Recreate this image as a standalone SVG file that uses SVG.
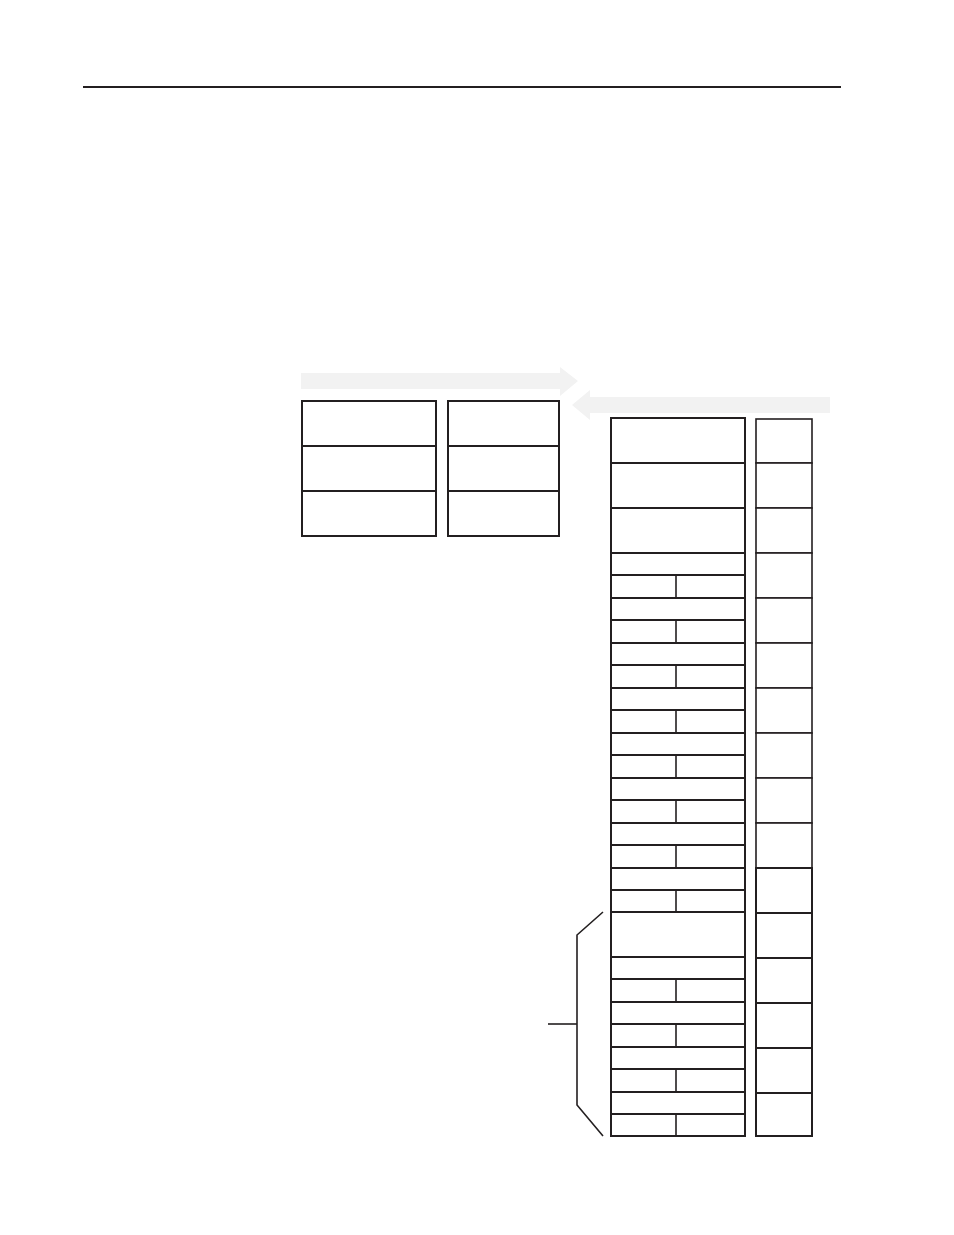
<svg xmlns="http://www.w3.org/2000/svg" width="954" height="1235" viewBox="0 0 954 1235">
<style>
.b{fill:#fff;stroke:#231f20;stroke-width:2}
.t{fill:#fff;stroke:#231f20;stroke-width:1.6}
.l{fill:none;stroke:#231f20;stroke-width:1.6}
.a{fill:#f2f2f2;stroke:none}
</style>
<rect width="954" height="1235" fill="#fff"/>
<line x1="83" y1="87" x2="841" y2="87" stroke="#231f20" stroke-width="2"/>
<g id="connectors">
<polygon class="a" points="301,373 560,373 560,367 578,381 560,396 560,389 301,389"/>
<polygon class="a" points="830,397 590,397 590,390 572,405 590,420 590,413 830,413"/>
<polyline class="l" points="603,912 577,935 577,1105 603,1136"/>
<line class="l" x1="548" y1="1024" x2="577" y2="1024"/>
</g>
<g id="left-a">
<rect class="b" x="302" y="401" width="134" height="45"/>
<rect class="b" x="302" y="446" width="134" height="45"/>
<rect class="b" x="302" y="491" width="134" height="45"/>
</g>
<g id="left-b">
<rect class="b" x="448" y="401" width="111" height="45"/>
<rect class="b" x="448" y="446" width="111" height="45"/>
<rect class="b" x="448" y="491" width="111" height="45"/>
</g>
<g id="main-col">
<rect class="b" x="611" y="418" width="134" height="45"/>
<rect class="b" x="611" y="463" width="134" height="45"/>
<rect class="b" x="611" y="508" width="134" height="45"/>
<g id="pair1"><rect class="b" x="611" y="553" width="134" height="22"/><rect class="b" x="611" y="575" width="134" height="23"/><line class="l" x1="676" y1="575" x2="676" y2="598"/></g>
<g id="pair2"><rect class="b" x="611" y="598" width="134" height="22"/><rect class="b" x="611" y="620" width="134" height="23"/><line class="l" x1="676" y1="620" x2="676" y2="643"/></g>
<g id="pair3"><rect class="b" x="611" y="643" width="134" height="22"/><rect class="b" x="611" y="665" width="134" height="23"/><line class="l" x1="676" y1="665" x2="676" y2="688"/></g>
<g id="pair4"><rect class="b" x="611" y="688" width="134" height="22"/><rect class="b" x="611" y="710" width="134" height="23"/><line class="l" x1="676" y1="710" x2="676" y2="733"/></g>
<g id="pair5"><rect class="b" x="611" y="733" width="134" height="22"/><rect class="b" x="611" y="755" width="134" height="23"/><line class="l" x1="676" y1="755" x2="676" y2="778"/></g>
<g id="pair6"><rect class="b" x="611" y="778" width="134" height="22"/><rect class="b" x="611" y="800" width="134" height="23"/><line class="l" x1="676" y1="800" x2="676" y2="823"/></g>
<g id="pair7"><rect class="b" x="611" y="823" width="134" height="22"/><rect class="b" x="611" y="845" width="134" height="23"/><line class="l" x1="676" y1="845" x2="676" y2="868"/></g>
<g id="pair8"><rect class="b" x="611" y="868" width="134" height="22"/><rect class="b" x="611" y="890" width="134" height="22"/><line class="l" x1="676" y1="890" x2="676" y2="912"/></g>
<rect class="b" x="611" y="912" width="134" height="45"/>
<g id="pair9"><rect class="b" x="611" y="957" width="134" height="22"/><rect class="b" x="611" y="979" width="134" height="23"/><line class="l" x1="676" y1="979" x2="676" y2="1002"/></g>
<g id="pair10"><rect class="b" x="611" y="1002" width="134" height="22"/><rect class="b" x="611" y="1024" width="134" height="23"/><line class="l" x1="676" y1="1024" x2="676" y2="1047"/></g>
<g id="pair11"><rect class="b" x="611" y="1047" width="134" height="22"/><rect class="b" x="611" y="1069" width="134" height="23"/><line class="l" x1="676" y1="1069" x2="676" y2="1092"/></g>
<g id="pair12"><rect class="b" x="611" y="1092" width="134" height="22"/><rect class="b" x="611" y="1114" width="134" height="22"/><line class="l" x1="676" y1="1114" x2="676" y2="1136"/></g>
</g>
<g id="side-col">
<rect class="t" x="756" y="419" width="56" height="44"/>
<rect class="t" x="756" y="463" width="56" height="45"/>
<rect class="t" x="756" y="508" width="56" height="45"/>
<rect class="t" x="756" y="553" width="56" height="45"/>
<rect class="t" x="756" y="598" width="56" height="45"/>
<rect class="t" x="756" y="643" width="56" height="45"/>
<rect class="t" x="756" y="688" width="56" height="45"/>
<rect class="t" x="756" y="733" width="56" height="45"/>
<rect class="t" x="756" y="778" width="56" height="45"/>
<rect class="t" x="756" y="823" width="56" height="45"/>
<rect class="b" x="756" y="868" width="56" height="45"/>
<rect class="b" x="756" y="913" width="56" height="45"/>
<rect class="b" x="756" y="958" width="56" height="45"/>
<rect class="b" x="756" y="1003" width="56" height="45"/>
<rect class="b" x="756" y="1048" width="56" height="45"/>
<rect class="b" x="756" y="1093" width="56" height="43"/>
</g>
</svg>
